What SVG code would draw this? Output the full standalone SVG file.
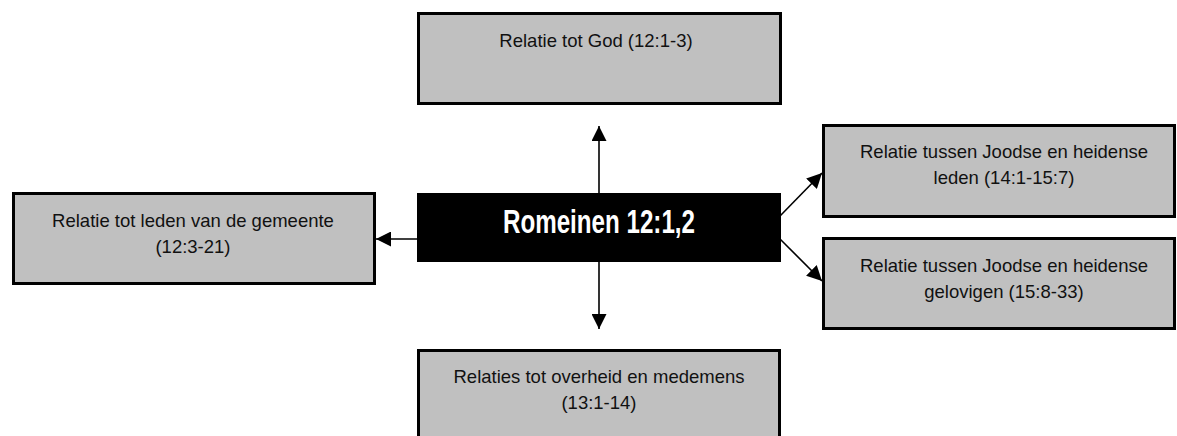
<svg xmlns="http://www.w3.org/2000/svg" width="1177" height="436" viewBox="0 0 1177 436">
  <style>
    .box { fill: #c0c0c0; stroke: #000; stroke-width: 3; }
    .lbl { font-family: "Liberation Sans", Arial, sans-serif; font-size: 18.5px; fill: #111; text-anchor: middle; }
    .title { font-family: "Liberation Sans", Arial, sans-serif; font-weight: bold; font-size: 33px; fill: #fff; text-anchor: middle; }
    .conn { stroke: #000; stroke-width: 1.6; fill: none; marker-end: url(#arrow); }
  </style>
  <defs>
    <marker id="arrow" viewBox="0 0 10 10" refX="10" refY="5" markerUnits="userSpaceOnUse" markerWidth="15" markerHeight="15" orient="auto">
      <path d="M0,0 L10,5 L0,10 z" fill="#000"/>
    </marker>
  </defs>
  <rect width="1177" height="436" fill="#fff"/>

  <g id="connectors">
    <line class="conn" x1="599" y1="193" x2="599" y2="126"/>
    <line class="conn" x1="599" y1="262" x2="599" y2="329"/>
    <line class="conn" x1="417" y1="239" x2="376" y2="239"/>
    <line class="conn" x1="780" y1="216" x2="822" y2="173"/>
    <line class="conn" x1="780" y1="239" x2="822" y2="281"/>
  </g>

  <g id="center">
    <rect x="417" y="193" width="364" height="69" fill="#000"/>
    <text class="title" x="599" y="233" textLength="192" lengthAdjust="spacingAndGlyphs">Romeinen 12:1,2</text>
  </g>

  <g id="god">
    <rect class="box" x="418.5" y="13.5" width="362" height="90"/>
    <text class="lbl" x="596" y="47">Relatie tot God (12:1-3)</text>
  </g>

  <g id="leden-gemeente">
    <rect class="box" x="13.5" y="193.5" width="361" height="90"/>
    <text class="lbl" x="193" y="227">Relatie tot leden van de gemeente</text>
    <text class="lbl" x="193" y="253">(12:3-21)</text>
  </g>

  <g id="joods-leden">
    <rect class="box" x="823.5" y="125.5" width="351" height="91"/>
    <text class="lbl" x="1004" y="158">Relatie tussen Joodse en heidense</text>
    <text class="lbl" x="1004" y="184">leden (14:1-15:7)</text>
  </g>

  <g id="joods-gelovigen">
    <rect class="box" x="823.5" y="238.5" width="351" height="90"/>
    <text class="lbl" x="1004" y="272">Relatie tussen Joodse en heidense</text>
    <text class="lbl" x="1004" y="298">gelovigen (15:8-33)</text>
  </g>

  <g id="overheid">
    <rect class="box" x="418.5" y="350.5" width="361" height="90"/>
    <text class="lbl" x="599" y="383">Relaties tot overheid en medemens</text>
    <text class="lbl" x="599" y="409">(13:1-14)</text>
  </g>
</svg>
